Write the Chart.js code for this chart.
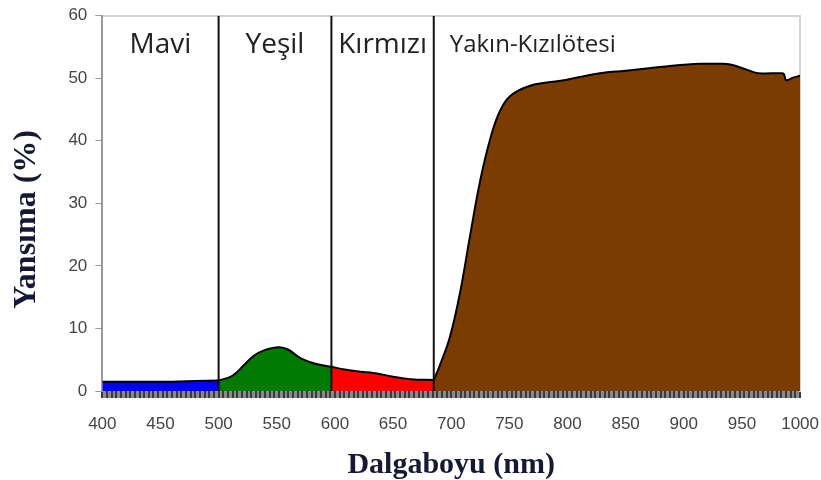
<!DOCTYPE html>
<html lang="tr">
<head>
<meta charset="UTF-8">
<title>Yansıma eğrisi</title>
<script src="https://cdn.jsdelivr.net/npm/chart.js"></script>
<style>
  body { margin: 0; background: #fff; }
  #wrap { width: 821px; height: 480px; }
</style>
</head>
<body>
<div id="wrap"><canvas id="chart" width="821" height="480"></canvas></div>
<script>
// spectrum, split at the band edges
const blueNm  = [400, 420, 440, 460, 480, 500];
const blueVal = [1.5, 1.5, 1.5, 1.5, 1.6, 1.7];

const greenNm  = [500, 505, 510, 515, 521, 530, 539, 552, 560, 570, 579, 588, 597];
const greenVal = [1.7, 1.95, 2.25, 2.9, 4.0, 5.6, 6.5, 7.0, 6.6, 5.3, 4.6, 4.15, 3.9];

const redNm  = [597, 607, 622, 633, 650, 665, 685];
const redVal = [3.9, 3.5, 3.1, 2.9, 2.3, 1.9, 1.75];

const nirNm  = [685, 690, 699, 708, 716, 725, 734, 742, 751, 768, 794, 828, 850, 870, 890, 914, 930, 940, 955, 964, 983, 986, 988, 994, 1000];
const nirVal = [1.75, 4.0, 8.7, 16.1, 24.6, 33.7, 40.6, 44.8, 47.2, 48.8, 49.6, 50.8, 51.2, 51.6, 52.0, 52.3, 52.3, 52.2, 51.3, 50.8, 50.8, 50.7, 49.7, 50.1, 50.4];

// band edges (nm) and names
const bandEdges = [400, 500, 597, 685, 1000];
const bandNames = ['Mavi', 'Yeşil', 'Kırmızı', 'Yakın-Kızılötesi'];
const xTicks = [400, 450, 500, 550, 600, 650, 700, 750, 800, 850, 900, 950, 1000];
const yTicks = [0, 10, 20, 30, 40, 50, 60];

function pts(xs, ys) { return xs.map((x, i) => ({ x: x, y: ys[i] })); }

function area(xs, ys, color) {
    return {
        data: pts(xs, ys),
        backgroundColor: color,
        borderColor: '#000',
        borderWidth: 2,
        fill: 'origin',
        pointRadius: 0,
        tension: 0.4,
        order: 2
    };
}

const datasets = [
    area(blueNm, blueVal, '#0000ff'),
    area(greenNm, greenVal, '#007a00'),
    area(redNm, redVal, '#ff0000'),
    area(nirNm, nirVal, '#7a3c00')
];

// vertical separators at the inner band edges
bandEdges.slice(1, -1).forEach(edge => {
    datasets.push({
        data: [{ x: edge, y: 0 }, { x: edge, y: 60 }],
        borderColor: '#111',
        borderWidth: 2,
        pointRadius: 0,
        fill: false,
        order: 0
    });
});

// band names written in the top of the plot
const bandLabels = {
    id: 'bandLabels',
    afterDatasetsDraw(chart) {
        const { ctx, scales } = chart;
        const yPix = scales.y.getPixelForValue(55.3);
        ctx.save();
        ctx.fillStyle = '#222';
        ctx.textBaseline = 'middle';
        bandNames.forEach((name, i) => {
            if (i < bandNames.length - 1) {
                ctx.font = '28px "Open Sans"';
                ctx.textAlign = 'center';
                const mid = (bandEdges[i] + bandEdges[i + 1]) / 2;
                ctx.fillText(name, scales.x.getPixelForValue(mid), yPix);
            } else {
                ctx.font = '24px "Open Sans"';
                ctx.textAlign = 'left';
                ctx.fillText(name, scales.x.getPixelForValue(bandEdges[i]) + 16, yPix);
            }
        });
        ctx.restore();
    }
};

new Chart(document.getElementById('chart'), {
    type: 'line',
    data: { datasets: datasets },
    plugins: [bandLabels],
    options: {
        responsive: false,
        animation: false,
        layout: { padding: { top: 0, right: 0, left: 8, bottom: 0 } },
        plugins: { legend: { display: false }, tooltip: { enabled: false } },
        scales: {
            x: {
                type: 'linear',
                position: 'bottom',
                weight: 1,
                min: 400,
                max: 1000,
                afterBuildTicks: (s) => { s.ticks = xTicks.map(v => ({ value: v })); },
                grid: { display: false, drawTicks: false },
                border: { display: false },
                ticks: {
                    font: { family: 'Liberation Sans', size: 17, lineHeight: 2.82 },
                    color: '#444',
                    padding: 2,
                    maxRotation: 0,
                    callback: (v) => String(v)
                },
                title: {
                    display: true,
                    text: 'Dalgaboyu (nm)',
                    color: '#151a33',
                    font: { family: 'Liberation Serif', size: 30, weight: 'bold', lineHeight: 1.0 },
                    padding: { top: 0, bottom: 0 }
                }
            },
            xMinor: {
                type: 'linear',
                position: 'bottom',
                weight: 0,
                min: 400,
                max: 1000,
                backgroundColor: '#8a8a8a',
                ticks: { display: false, stepSize: 4 },
                grid: { drawOnChartArea: false, tickLength: 7, color: '#3a3a3a', lineWidth: 2 },
                border: { display: false }
            },
            xTop: {
                type: 'linear',
                position: 'top',
                min: 400,
                max: 1000,
                ticks: { display: false },
                grid: { display: false },
                border: { color: '#d4d4d4', width: 2 }
            },
            y: {
                min: 0,
                max: 60,
                afterBuildTicks: (s) => { s.ticks = yTicks.map(v => ({ value: v })); },
                grid: { drawOnChartArea: false, tickLength: 7, color: '#9a9a9a' },
                border: { color: '#9a9a9a', width: 2 },
                ticks: { font: { family: 'Liberation Sans', size: 17, lineHeight: 0.9 }, color: '#444', padding: 8 },
                title: {
                    display: true,
                    text: 'Yansıma (%)    ',
                    color: '#151a33',
                    font: { family: 'Liberation Serif', size: 32, weight: 'bold' },
                    padding: { top: 0, bottom: 14 }
                }
            },
            yRight: {
                position: 'right',
                min: 0,
                max: 60,
                ticks: { display: false },
                grid: { display: false },
                border: { color: '#d4d4d4', width: 2 }
            }
        }
    }
});
</script>
</body>
</html>
